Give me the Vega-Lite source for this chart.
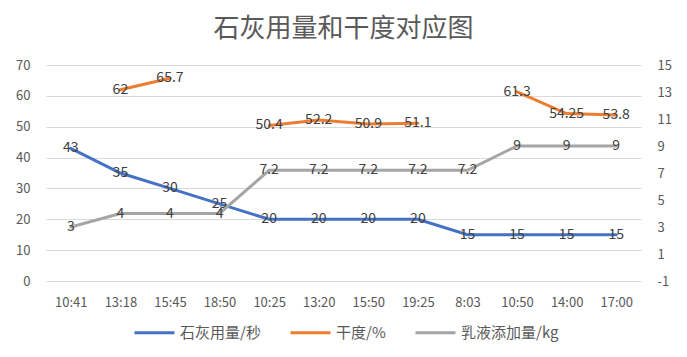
{
  "$schema": "https://vega.github.io/schema/vega-lite/v6.json",
  "autosize": {"type": "none"},
  "width": 595,
  "height": 216,
  "padding": {"left": 46, "top": 65, "right": 46, "bottom": 76},
  "background": "white",
  "title": {
    "text": "石灰用量和干度对应图",
    "anchor": "middle",
    "frame": "group",
    "fontSize": 26,
    "font": "Noto Sans CJK SC",
    "fontWeight": "normal",
    "color": "#595959",
    "offset": 17
  },
  "config": {
    "font": "Noto Sans CJK SC",
    "view": {"stroke": null},
    "axis": {"labelColor": "#595959", "labelFontSize": 13, "labelFont": "Noto Sans CJK SC", "ticks": false, "domain": false, "title": null}
  },
  "data": {
    "values": [
      {"t": "10:41", "s": "石灰用量/秒", "v": 43},
      {"t": "13:18", "s": "石灰用量/秒", "v": 35},
      {"t": "15:45", "s": "石灰用量/秒", "v": 30},
      {"t": "18:50", "s": "石灰用量/秒", "v": 25},
      {"t": "10:25", "s": "石灰用量/秒", "v": 20},
      {"t": "13:20", "s": "石灰用量/秒", "v": 20},
      {"t": "15:50", "s": "石灰用量/秒", "v": 20},
      {"t": "19:25", "s": "石灰用量/秒", "v": 20},
      {"t": "8:03", "s": "石灰用量/秒", "v": 15},
      {"t": "10:50", "s": "石灰用量/秒", "v": 15},
      {"t": "14:00", "s": "石灰用量/秒", "v": 15},
      {"t": "17:00", "s": "石灰用量/秒", "v": 15},
      {"t": "10:41", "s": "干度/%", "v": null},
      {"t": "13:18", "s": "干度/%", "v": 62},
      {"t": "15:45", "s": "干度/%", "v": 65.7},
      {"t": "18:50", "s": "干度/%", "v": null},
      {"t": "10:25", "s": "干度/%", "v": 50.4},
      {"t": "13:20", "s": "干度/%", "v": 52.2},
      {"t": "15:50", "s": "干度/%", "v": 50.9},
      {"t": "19:25", "s": "干度/%", "v": 51.1},
      {"t": "8:03", "s": "干度/%", "v": null},
      {"t": "10:50", "s": "干度/%", "v": 61.3},
      {"t": "14:00", "s": "干度/%", "v": 54.25},
      {"t": "17:00", "s": "干度/%", "v": 53.8},
      {"t": "10:41", "s": "乳液添加量/kg", "v": 3},
      {"t": "13:18", "s": "乳液添加量/kg", "v": 4},
      {"t": "15:45", "s": "乳液添加量/kg", "v": 4},
      {"t": "18:50", "s": "乳液添加量/kg", "v": 4},
      {"t": "10:25", "s": "乳液添加量/kg", "v": 7.2},
      {"t": "13:20", "s": "乳液添加量/kg", "v": 7.2},
      {"t": "15:50", "s": "乳液添加量/kg", "v": 7.2},
      {"t": "19:25", "s": "乳液添加量/kg", "v": 7.2},
      {"t": "8:03", "s": "乳液添加量/kg", "v": 7.2},
      {"t": "10:50", "s": "乳液添加量/kg", "v": 9},
      {"t": "14:00", "s": "乳液添加量/kg", "v": 9},
      {"t": "17:00", "s": "乳液添加量/kg", "v": 9}
    ]
  },
  "encoding": {
    "x": {
      "field": "t",
      "type": "ordinal",
      "sort": null,
      "scale": {"type": "point", "padding": 0.5},
      "axis": {"labelAngle": 0, "labelPadding": 15, "grid": false}
    }
  },
  "layer": [
    {
      "transform": [{"filter": "datum.s !== '乳液添加量/kg'"}],
      "encoding": {
        "y": {
          "field": "v",
          "type": "quantitative",
          "scale": {"domain": [0, 70], "nice": false, "zero": false},
          "axis": {"orient": "left", "values": [0, 10, 20, 30, 40, 50, 60, 70], "grid": true, "gridColor": "#D9D9D9", "gridWidth": 1, "labelPadding": 16}
        }
      },
      "layer": [
        {
          "mark": {"type": "line", "strokeWidth": 3, "invalid": "break-paths-filter-domains", "strokeCap": "round"},
          "encoding": {
            "color": {
              "field": "s",
              "type": "nominal",
              "scale": {"domain": ["石灰用量/秒", "干度/%", "乳液添加量/kg"], "range": ["#4472C4", "#ED7D31", "#A5A5A5"]},
              "legend": {
                "orient": "none",
                "direction": "horizontal",
                "legendX": 87,
                "legendY": 246,
                "title": null,
                "symbolType": "stroke",
                "symbolStrokeWidth": 3,
                "symbolSize": 1600,
                "labelFontSize": 15,
                "labelColor": "#595959",
                "labelFont": "Noto Sans CJK SC",
                "labelOffset": 4,
                "columnPadding": 23
              }
            }
          }
        },
        {
          "transform": [{"filter": "datum.v != null"}],
          "mark": {"type": "text", "fontSize": 14, "color": "#404040", "align": "center", "baseline": "middle"},
          "encoding": {"text": {"field": "v", "type": "quantitative"}}
        }
      ]
    },
    {
      "transform": [{"filter": "datum.s === '乳液添加量/kg'"}],
      "encoding": {
        "y": {
          "field": "v",
          "type": "quantitative",
          "scale": {"domain": [-1, 15], "nice": false, "zero": false},
          "axis": {"orient": "right", "values": [-1, 1, 3, 5, 7, 9, 11, 13, 15], "grid": false, "labelPadding": 16, "labelExpr": "datum.value < 0 ? '-' + abs(datum.value) : datum.label"}
        }
      },
      "layer": [
        {
          "mark": {"type": "line", "strokeWidth": 3, "strokeCap": "round"},
          "encoding": {"color": {"field": "s", "type": "nominal"}}
        },
        {
          "mark": {"type": "text", "fontSize": 14, "color": "#404040", "align": "center", "baseline": "middle"},
          "encoding": {"text": {"field": "v", "type": "quantitative"}}
        }
      ]
    }
  ],
  "resolve": {"scale": {"y": "independent"}}
}
